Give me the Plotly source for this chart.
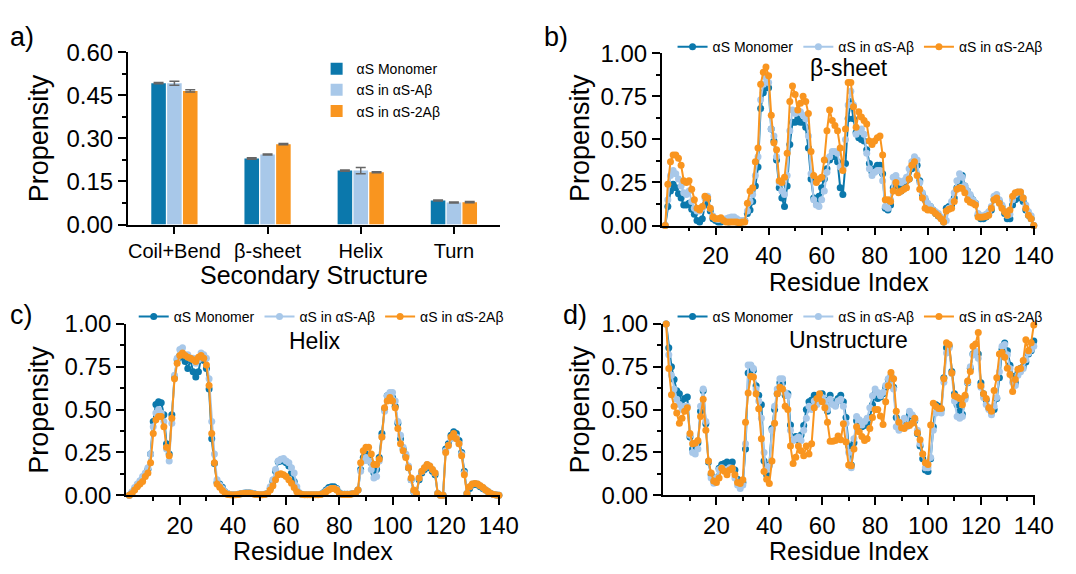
import plotly.graph_objects as go

W, H = 1076, 574
FONT = "Liberation Sans, Arial, sans-serif"
C_MONO = "#0B78AC"
C_AB = "#A8C8E9"
C_2AB = "#F9951F"
SERIES = ["αS Monomer", "αS in αS-Aβ", "αS in αS-2Aβ"]

# ---------------- panel a: secondary structure bars ----------------
categories = ["Coil+Bend", "β-sheet", "Helix", "Turn"]
bar_mono = [0.492, 0.230, 0.188, 0.084]
bar_ab = [0.492, 0.244, 0.188, 0.077]
bar_2ab = [0.465, 0.280, 0.182, 0.078]
err_mono = [0.002, 0.003, 0.002, 0.002]
err_ab = [0.007, 0.002, 0.011, 0.002]
err_2ab = [0.004, 0.002, 0.002, 0.002]

# ---------------- panels b-d: per-residue propensities ----------------
residues = list(range(1, 141))

sheet_mono = [0.00, 0.11, 0.20, 0.24, 0.22, 0.185, 0.16, 0.12, 0.12, 0.13,
              0.094, 0.066, 0.03, 0.02, 0.04, 0.12, 0.15, 0.085, 0.04, 0.03,
              0.02, 0.02, 0.03, 0.025, 0.02, 0.03, 0.03, 0.02, 0.02, 0.02,
              0.03, 0.07, 0.09, 0.14, 0.23, 0.34, 0.68, 0.77, 0.80, 0.80,
              0.56, 0.49, 0.38, 0.22, 0.16, 0.11, 0.23, 0.47, 0.60, 0.60,
              0.62, 0.60, 0.60, 0.57, 0.45, 0.27, 0.16, 0.14, 0.17, 0.22,
              0.27, 0.33, 0.38, 0.41, 0.40, 0.37, 0.22, 0.18, 0.36, 0.62,
              0.72, 0.62, 0.54, 0.51, 0.50, 0.49, 0.44, 0.36, 0.31, 0.33,
              0.35, 0.35, 0.30, 0.10, 0.09, 0.12, 0.22, 0.27, 0.23, 0.20,
              0.24, 0.26, 0.27, 0.33, 0.38, 0.35, 0.26, 0.18, 0.15, 0.12,
              0.11, 0.09, 0.07, 0.055, 0.045, 0.02, 0.10, 0.11, 0.12, 0.16,
              0.22, 0.26, 0.29, 0.23, 0.20, 0.17, 0.15, 0.13, 0.06, 0.04,
              0.04, 0.05, 0.07, 0.09, 0.15, 0.16, 0.14, 0.11, 0.07, 0.04,
              0.04, 0.12, 0.15, 0.16, 0.18, 0.14, 0.09, 0.06, 0.04, 0.00]
sheet_ab = [0.00, 0.15, 0.29, 0.32, 0.30, 0.27, 0.23, 0.19, 0.18, 0.20,
            0.14, 0.10, 0.085, 0.085, 0.10, 0.16, 0.17, 0.10, 0.055, 0.04,
            0.035, 0.04, 0.035, 0.04, 0.045, 0.05, 0.05, 0.04, 0.03, 0.03,
            0.03, 0.085, 0.14, 0.18, 0.29, 0.40, 0.73, 0.82, 0.86, 0.83,
            0.56, 0.52, 0.40, 0.25, 0.20, 0.18, 0.29, 0.55, 0.67, 0.65,
            0.66, 0.66, 0.64, 0.62, 0.52, 0.30, 0.15, 0.12, 0.11, 0.15,
            0.20, 0.31, 0.40, 0.43, 0.43, 0.42, 0.34, 0.33, 0.50, 0.70,
            0.78, 0.70, 0.53, 0.55, 0.56, 0.53, 0.42, 0.33, 0.29, 0.31,
            0.32, 0.32, 0.26, 0.11, 0.10, 0.15, 0.28, 0.29, 0.26, 0.25,
            0.26, 0.28, 0.33, 0.37, 0.40, 0.38, 0.25, 0.19, 0.16, 0.13,
            0.11, 0.09, 0.08, 0.07, 0.05, 0.035, 0.03, 0.10, 0.14, 0.19,
            0.26, 0.30, 0.28, 0.23, 0.20, 0.18, 0.15, 0.13, 0.07, 0.057,
            0.057, 0.065, 0.08, 0.11, 0.17, 0.18, 0.15, 0.12, 0.085, 0.06,
            0.066, 0.15, 0.18, 0.195, 0.195, 0.16, 0.12, 0.08, 0.057, 0.00]
sheet_2ab = [0.00, 0.24, 0.37, 0.41, 0.41, 0.39, 0.35, 0.26, 0.25, 0.26,
             0.21, 0.15, 0.10, 0.09, 0.11, 0.17, 0.16, 0.10, 0.05, 0.04,
             0.04, 0.045, 0.03, 0.02, 0.02, 0.02, 0.02, 0.02, 0.015, 0.02,
             0.02, 0.13, 0.20, 0.22, 0.37, 0.45, 0.82, 0.89, 0.92, 0.87,
             0.64, 0.48, 0.44, 0.26, 0.25, 0.28, 0.42, 0.72, 0.81, 0.76,
             0.67, 0.71, 0.75, 0.72, 0.65, 0.43, 0.29, 0.25, 0.27, 0.28,
             0.38, 0.55, 0.67, 0.61, 0.58, 0.55, 0.45, 0.32, 0.56, 0.83,
             0.83, 0.69, 0.57, 0.66, 0.63, 0.61, 0.59, 0.49, 0.47, 0.49,
             0.51, 0.52, 0.41, 0.15, 0.15, 0.14, 0.20, 0.25, 0.19, 0.20,
             0.21, 0.22, 0.27, 0.35, 0.37, 0.29, 0.21, 0.16, 0.10, 0.09,
             0.09, 0.085, 0.07, 0.057, 0.04, 0.02, 0.085, 0.094, 0.10, 0.14,
             0.21, 0.22, 0.215, 0.19, 0.15, 0.135, 0.13, 0.12, 0.05, 0.048,
             0.05, 0.052, 0.06, 0.10, 0.15, 0.16, 0.13, 0.10, 0.08, 0.06,
             0.09, 0.17, 0.19, 0.195, 0.195, 0.16, 0.10, 0.06, 0.04, 0.00]

helix_mono = [0.00, 0.015, 0.035, 0.055, 0.075, 0.095, 0.12, 0.15, 0.24, 0.43,
              0.53, 0.546, 0.54, 0.47, 0.30, 0.24, 0.47, 0.69, 0.79, 0.815,
              0.805, 0.78, 0.74, 0.79, 0.72, 0.69, 0.72, 0.805, 0.787, 0.74,
              0.62, 0.33, 0.185, 0.074, 0.065, 0.046, 0.02, 0.008, 0.004, 0.003,
              0.004, 0.006, 0.009, 0.012, 0.014, 0.014, 0.012, 0.008, 0.005, 0.004,
              0.004, 0.006, 0.01, 0.04, 0.08, 0.14, 0.195, 0.20, 0.20, 0.19,
              0.17, 0.13, 0.08, 0.03, 0.01, 0.005, 0.004, 0.004, 0.004, 0.004,
              0.004, 0.004, 0.006, 0.015, 0.03, 0.045, 0.05, 0.05, 0.04, 0.015,
              0.006, 0.006, 0.006, 0.006, 0.01, 0.012, 0.03, 0.15, 0.22, 0.24,
              0.23, 0.19, 0.13, 0.15, 0.22, 0.36, 0.50, 0.58, 0.59, 0.57,
              0.52, 0.42, 0.33, 0.27, 0.23, 0.16, 0.09, 0.02, 0.01, 0.09,
              0.13, 0.15, 0.17, 0.16, 0.14, 0.12, 0.01, 0.00, 0.00, 0.27,
              0.30, 0.35, 0.37, 0.36, 0.32, 0.25, 0.14, 0.01, 0.04, 0.06,
              0.065, 0.06, 0.05, 0.04, 0.03, 0.02, 0.01, 0.005, 0.002, 0.00]
helix_ab = [0.00, 0.02, 0.045, 0.065, 0.085, 0.11, 0.13, 0.16, 0.24, 0.40,
            0.48, 0.50, 0.48, 0.43, 0.27, 0.20, 0.42, 0.70, 0.80, 0.85,
            0.86, 0.82, 0.82, 0.80, 0.80, 0.77, 0.79, 0.83, 0.82, 0.80,
            0.68, 0.43, 0.24, 0.09, 0.06, 0.04, 0.02, 0.01, 0.005, 0.003,
            0.004, 0.006, 0.009, 0.012, 0.014, 0.014, 0.012, 0.008, 0.005, 0.004,
            0.004, 0.006, 0.012, 0.05, 0.09, 0.15, 0.20, 0.21, 0.215, 0.20,
            0.19, 0.16, 0.13, 0.05, 0.015, 0.005, 0.004, 0.004, 0.004, 0.004,
            0.004, 0.004, 0.006, 0.012, 0.025, 0.035, 0.04, 0.04, 0.035, 0.012,
            0.006, 0.006, 0.006, 0.006, 0.01, 0.012, 0.03, 0.14, 0.20, 0.22,
            0.20, 0.15, 0.10, 0.11, 0.20, 0.34, 0.49, 0.58, 0.60, 0.60,
            0.55, 0.43, 0.35, 0.28, 0.24, 0.17, 0.09, 0.02, 0.01, 0.10,
            0.14, 0.16, 0.18, 0.17, 0.15, 0.13, 0.01, 0.00, 0.00, 0.26,
            0.29, 0.33, 0.35, 0.34, 0.30, 0.24, 0.13, 0.01, 0.05, 0.065,
            0.068, 0.065, 0.055, 0.045, 0.03, 0.02, 0.01, 0.005, 0.002, 0.00]
helix_2ab = [0.00, 0.01, 0.03, 0.05, 0.065, 0.08, 0.11, 0.13, 0.19, 0.36,
             0.44, 0.46, 0.46, 0.40, 0.28, 0.23, 0.45, 0.68, 0.77, 0.815,
             0.83, 0.815, 0.805, 0.80, 0.79, 0.78, 0.805, 0.815, 0.80, 0.76,
             0.64, 0.36, 0.19, 0.065, 0.046, 0.028, 0.013, 0.005, 0.003, 0.002,
             0.003, 0.005, 0.008, 0.01, 0.012, 0.012, 0.01, 0.006, 0.004, 0.003,
             0.003, 0.005, 0.01, 0.03, 0.055, 0.09, 0.12, 0.125, 0.12, 0.11,
             0.09, 0.07, 0.045, 0.02, 0.01, 0.005, 0.003, 0.003, 0.003, 0.003,
             0.003, 0.003, 0.005, 0.01, 0.02, 0.03, 0.04, 0.04, 0.03, 0.01,
             0.005, 0.005, 0.005, 0.005, 0.008, 0.01, 0.03, 0.19, 0.26, 0.28,
             0.28, 0.24, 0.18, 0.18, 0.21, 0.34, 0.51, 0.55, 0.57, 0.55,
             0.51, 0.39, 0.30, 0.26, 0.22, 0.16, 0.10, 0.03, 0.01, 0.10,
             0.14, 0.16, 0.18, 0.17, 0.15, 0.13, 0.01, 0.00, 0.00, 0.25,
             0.29, 0.34, 0.36, 0.33, 0.30, 0.23, 0.12, 0.01, 0.05, 0.065,
             0.068, 0.065, 0.055, 0.045, 0.03, 0.02, 0.01, 0.005, 0.002, 0.00]

unstr_mono = [1.00, 0.86, 0.75, 0.676, 0.61, 0.593, 0.528, 0.565, 0.574, 0.34,
              0.27, 0.296, 0.306, 0.49, 0.61, 0.417, 0.194, 0.12, 0.083, 0.10,
              0.157, 0.18, 0.185, 0.194, 0.185, 0.194, 0.148, 0.093, 0.083, 0.074,
              0.27, 0.713, 0.754, 0.73, 0.639, 0.583, 0.528, 0.20, 0.12, 0.176,
              0.39, 0.50, 0.593, 0.657, 0.657, 0.583, 0.593, 0.41, 0.324, 0.343,
              0.324, 0.352, 0.407, 0.50, 0.546, 0.556, 0.583, 0.556, 0.57, 0.593,
              0.556, 0.49, 0.583, 0.546, 0.528, 0.565, 0.583, 0.546, 0.454, 0.287,
              0.176, 0.306, 0.435, 0.426, 0.40, 0.407, 0.426, 0.454, 0.528, 0.593,
              0.565, 0.574, 0.593, 0.63, 0.676, 0.694, 0.63, 0.454, 0.407, 0.417,
              0.435, 0.444, 0.472, 0.463, 0.435, 0.361, 0.287, 0.213, 0.148, 0.139,
              0.213, 0.40, 0.528, 0.519, 0.50, 0.685, 0.861, 0.87, 0.722, 0.593,
              0.528, 0.49, 0.472, 0.574, 0.657, 0.741, 0.824, 0.833, 0.824, 0.657,
              0.593, 0.556, 0.509, 0.481, 0.50, 0.565, 0.685, 0.852, 0.889, 0.843,
              0.759, 0.694, 0.657, 0.713, 0.741, 0.75, 0.778, 0.824, 0.843, 0.90]
unstr_ab = [1.00, 0.82, 0.70, 0.62, 0.56, 0.53, 0.50, 0.52, 0.52, 0.35,
            0.25, 0.24, 0.27, 0.52, 0.62, 0.43, 0.20, 0.10, 0.07, 0.10,
            0.15, 0.16, 0.15, 0.14, 0.16, 0.15, 0.10, 0.06, 0.04, 0.06,
            0.30, 0.76, 0.76, 0.74, 0.62, 0.55, 0.45, 0.25, 0.15, 0.17,
            0.38, 0.52, 0.62, 0.68, 0.68, 0.60, 0.58, 0.38, 0.32, 0.33,
            0.34, 0.32, 0.38, 0.45, 0.52, 0.50, 0.55, 0.53, 0.56, 0.57,
            0.55, 0.50, 0.56, 0.53, 0.52, 0.55, 0.56, 0.52, 0.42, 0.25,
            0.16, 0.33, 0.46, 0.44, 0.41, 0.43, 0.45, 0.51, 0.58, 0.62,
            0.60, 0.58, 0.60, 0.64, 0.68, 0.70, 0.62, 0.40, 0.38, 0.40,
            0.45, 0.40, 0.49, 0.47, 0.44, 0.38, 0.30, 0.24, 0.16, 0.16,
            0.22, 0.38, 0.48, 0.49, 0.48, 0.66, 0.83, 0.86, 0.71, 0.55,
            0.46, 0.45, 0.46, 0.56, 0.66, 0.75, 0.82, 0.84, 0.80, 0.63,
            0.57, 0.53, 0.50, 0.47, 0.52, 0.57, 0.72, 0.87, 0.88, 0.82,
            0.74, 0.66, 0.64, 0.70, 0.72, 0.74, 0.79, 0.83, 0.85, 0.87]
unstr_2ab = [1.00, 0.74, 0.587, 0.52, 0.48, 0.42, 0.45, 0.49, 0.51, 0.36,
             0.30, 0.305, 0.32, 0.46, 0.56, 0.38, 0.20, 0.13, 0.083, 0.074,
             0.10, 0.157, 0.14, 0.12, 0.148, 0.157, 0.12, 0.074, 0.068, 0.09,
             0.426, 0.596, 0.694, 0.69, 0.593, 0.505, 0.33, 0.139, 0.093, 0.069,
             0.20, 0.42, 0.593, 0.63, 0.62, 0.519, 0.50, 0.287, 0.185, 0.222,
             0.287, 0.26, 0.23, 0.287, 0.24, 0.30, 0.51, 0.565, 0.593, 0.546,
             0.51, 0.426, 0.315, 0.315, 0.32, 0.345, 0.324, 0.417, 0.31, 0.176,
             0.172, 0.27, 0.40, 0.37, 0.343, 0.32, 0.33, 0.39, 0.454, 0.50,
             0.50, 0.463, 0.413, 0.546, 0.639, 0.717, 0.68, 0.49, 0.426, 0.394,
             0.389, 0.407, 0.407, 0.42, 0.45, 0.365, 0.324, 0.24, 0.19, 0.18,
             0.41, 0.537, 0.519, 0.506, 0.506, 0.68, 0.89, 0.88, 0.713, 0.58,
             0.574, 0.565, 0.528, 0.583, 0.667, 0.722, 0.87, 0.883, 0.95, 0.639,
             0.593, 0.565, 0.51, 0.49, 0.611, 0.685, 0.824, 0.833, 0.806, 0.741,
             0.704, 0.606, 0.676, 0.735, 0.74, 0.787, 0.907, 0.843, 0.89, 0.994]

x_tickvals = [20, 40, 60, 80, 100, 120, 140]
x_minorvals = [10, 30, 50, 70, 90, 110, 130]


def px(v):
    return v / W


def py(v):
    return 1 - v / H


fig = go.Figure()

# bars
for name, vals, errs, col in [(SERIES[0], bar_mono, err_mono, C_MONO),
                              (SERIES[1], bar_ab, err_ab, C_AB),
                              (SERIES[2], bar_2ab, err_2ab, C_2AB)]:
    fig.add_trace(go.Bar(x=categories, y=vals, name=name, marker=dict(color=col, line=dict(width=0)),
                         error_y=dict(type="data", array=errs, color="#666666", thickness=1.5, width=5),
                         xaxis="x", yaxis="y", legend="legend"))

panels = [("x2", "y2", "legend2", sheet_mono, sheet_ab, sheet_2ab),
          ("x3", "y3", "legend3", helix_mono, helix_ab, helix_2ab),
          ("x4", "y4", "legend4", unstr_mono, unstr_ab, unstr_2ab)]
for xa, ya, lg, m, a, b in panels:
    for name, vals, col in [(SERIES[0], m, C_MONO), (SERIES[1], a, C_AB), (SERIES[2], b, C_2AB)]:
        fig.add_trace(go.Scatter(x=residues, y=vals, name=name, mode="lines+markers",
                                 line=dict(color=col, width=2), marker=dict(color=col, size=7),
                                 cliponaxis=False, xaxis=xa, yaxis=ya, legend=lg))

axis_common = dict(showline=True, linecolor="black", linewidth=1.6, ticks="outside", ticklen=8,
                   tickwidth=1.6, tickcolor="black", showgrid=False, zeroline=False,
                   tickfont=dict(size=24, color="black", family=FONT))


def yax(domain, anchor, rng, dtick):
    return dict(axis_common, domain=domain, anchor=anchor, range=rng, tick0=0, dtick=dtick,
                tickformat=".2f",
                minor=dict(ticks="outside", ticklen=4, tickwidth=1.6, tickcolor="black",
                           dtick=dtick / 2, tick0=0, showgrid=False))


def xres(domain, anchor):
    return dict(axis_common, domain=domain, anchor=anchor, range=[-0.3, 140.6], tickmode="array",
                tickvals=x_tickvals,
                minor=dict(ticks="outside", ticklen=4, tickwidth=1.6, tickcolor="black",
                           tickmode="array", tickvals=x_minorvals, showgrid=False))


dom_a_x = [px(130), px(509)]
dom_b_x = [px(673), px(1053)]
dom_c_x = [px(128), px(509)]
dom_d_x = [px(674), px(1053)]
dom_bot_y = [py(505), py(325)]

leg_font = dict(size=14, color="black", family=FONT)

fig.update_layout(
    width=W, height=H, margin=dict(l=0, r=0, t=0, b=0),
    paper_bgcolor="white", plot_bgcolor="white",
    font=dict(family=FONT, color="black"),
    barmode="group", bargap=0.49, bargroupgap=0.08,
    xaxis=dict(axis_common, domain=dom_a_x, anchor="y", type="category", range=[-0.5, 3.5],
               tickfont=dict(size=20, color="black", family=FONT)),
    yaxis=yax([py(221), py(40)], "x", [0, 0.6001], 0.15),
    xaxis2=xres(dom_b_x, "y2"),
    yaxis2=yax([py(222), py(41)], "x2", [0, 1.001], 0.25),
    xaxis3=xres(dom_c_x, "y3"),
    yaxis3=yax(dom_bot_y, "x3", [0, 1.001], 0.25),
    xaxis4=xres(dom_d_x, "y4"),
    yaxis4=yax(dom_bot_y, "x4", [0, 1.001], 0.25),
    legend=dict(x=px(322), y=py(41), xanchor="left", yanchor="top", font=leg_font,
                bgcolor="rgba(0,0,0,0)", tracegroupgap=0),
    legend2=dict(x=px(684), y=py(18), xanchor="left", yanchor="top", orientation="h",
                 font=leg_font, bgcolor="rgba(0,0,0,0)"),
    legend3=dict(x=px(136), y=py(301), xanchor="left", yanchor="top", orientation="h",
                 font=leg_font, bgcolor="rgba(0,0,0,0)"),
    legend4=dict(x=px(684), y=py(301), xanchor="left", yanchor="top", orientation="h",
                 font=leg_font, bgcolor="rgba(0,0,0,0)"),
)

ann = []


def text(x, y, s, size, angle=0, xanchor="center"):
    ann.append(dict(x=px(x), y=py(y), xref="paper", yref="paper", text=s, showarrow=False,
                    xanchor=xanchor, yanchor="middle", textangle=angle,
                    font=dict(size=size, color="black", family=FONT)))


text(8, 24, "a)", 27, xanchor="left")
text(551, 24, "b)", 27, xanchor="left")
text(8, 316, "c)", 27, xanchor="left")
text(571, 316, "d)", 27, xanchor="left")
text(40, 130, "Propensity", 27, angle=-90)
text(590, 130, "Propensity", 27, angle=-90)
text(40, 415, "Propensity", 27, angle=-90)
text(590, 415, "Propensity", 27, angle=-90)
text(319, 274, "Secondary Structure", 25)
text(863, 281, "Residue Index", 25)
text(318, 563, "Residue Index", 25)
text(863, 563, "Residue Index", 25)
text(863, 57, "β-sheet", 23)
text(320, 343, "Helix", 23)
text(863, 342, "Unstructure", 23)
fig.update_layout(annotations=ann)

fig.write_html("out.html")
